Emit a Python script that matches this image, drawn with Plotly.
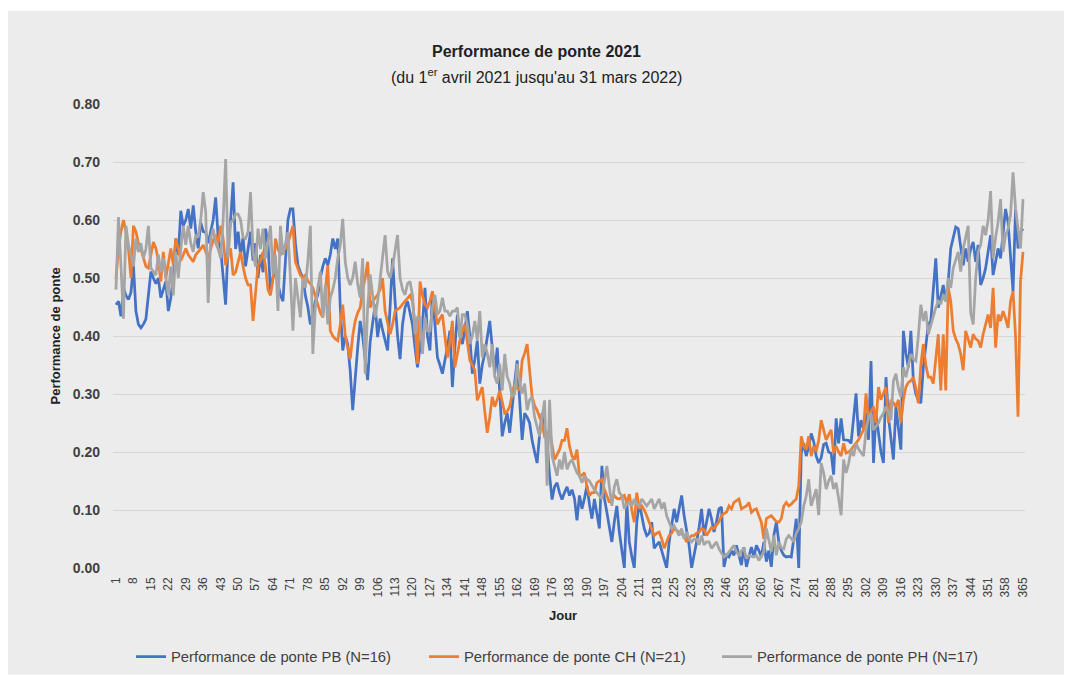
import plotly.graph_objects as go

days = list(range(1, 366))
tick_days = list(range(1, 366, 7))

pb = [
    0.454, 0.46, 0.434, 0.483, 0.47, 0.463, 0.475, 0.522, 0.443, 0.42,
    0.414, 0.42, 0.429, 0.471, 0.511, 0.50, 0.49, 0.50, 0.466, 0.48,
    0.494, 0.443, 0.466, 0.50, 0.568, 0.54, 0.616, 0.59, 0.60, 0.619,
    0.585, 0.625, 0.58, 0.551, 0.596, 0.58, 0.579, 0.56, 0.58, 0.60,
    0.639, 0.57, 0.55, 0.50, 0.454, 0.56, 0.60, 0.665, 0.55, 0.58,
    0.54, 0.57, 0.52, 0.55, 0.58, 0.53, 0.56, 0.50, 0.54, 0.51,
    0.585, 0.56, 0.477, 0.50, 0.52, 0.49, 0.47, 0.46, 0.53, 0.60,
    0.619, 0.619, 0.56, 0.522, 0.51, 0.50, 0.47, 0.45, 0.42, 0.44,
    0.46, 0.471, 0.50, 0.52, 0.534, 0.522, 0.54, 0.568, 0.55, 0.568,
    0.45, 0.375, 0.40, 0.386, 0.34, 0.272, 0.33, 0.38, 0.426, 0.40,
    0.36, 0.324, 0.39, 0.42, 0.454, 0.398, 0.43, 0.41, 0.39, 0.375,
    0.45, 0.534, 0.46, 0.40, 0.36, 0.42, 0.449, 0.46, 0.44, 0.42,
    0.38, 0.346, 0.38, 0.42, 0.483, 0.40, 0.375, 0.477, 0.42, 0.363,
    0.35, 0.335, 0.358, 0.38, 0.409, 0.312, 0.38, 0.437, 0.40, 0.386,
    0.41, 0.443, 0.40, 0.335, 0.36, 0.392, 0.318, 0.35, 0.37, 0.40,
    0.426, 0.38, 0.335, 0.38, 0.30, 0.227, 0.25, 0.267, 0.233, 0.28,
    0.32, 0.358, 0.28, 0.221, 0.267, 0.26, 0.25, 0.22, 0.20, 0.181,
    0.23, 0.267, 0.24, 0.216, 0.16, 0.118, 0.14, 0.147, 0.13, 0.118,
    0.13, 0.14, 0.125, 0.135, 0.12, 0.082, 0.125, 0.102, 0.12, 0.142,
    0.11, 0.085, 0.119, 0.09, 0.068, 0.176, 0.12, 0.096, 0.068, 0.045,
    0.08, 0.107, 0.062, 0.03, 0.0, 0.113, 0.045, 0.02, 0.0, 0.079,
    0.113, 0.09, 0.068, 0.056, 0.06, 0.079, 0.034, 0.04, 0.045, 0.03,
    0.015, 0.0, 0.045, 0.07, 0.102, 0.079, 0.10, 0.125, 0.09, 0.062,
    0.039, 0.0, 0.02, 0.045, 0.07, 0.102, 0.056, 0.08, 0.102, 0.085,
    0.062, 0.08, 0.102, 0.105, 0.002, 0.022, 0.019, 0.03, 0.022, 0.039,
    0.02, 0.005, 0.036, 0.002, 0.02, 0.036, 0.019, 0.039, 0.03, 0.019,
    0.045, 0.011, 0.03, 0.002, 0.056, 0.079, 0.045, 0.03, 0.022, 0.019,
    0.02, 0.019, 0.05, 0.085, 0.0, 0.198, 0.215, 0.193, 0.21, 0.232,
    0.218, 0.193, 0.181, 0.19, 0.213, 0.215, 0.20, 0.198, 0.161, 0.258,
    0.215, 0.258, 0.221, 0.221, 0.22, 0.215, 0.26, 0.301, 0.227, 0.255,
    0.24, 0.267, 0.221, 0.357, 0.181, 0.267, 0.233, 0.20, 0.181, 0.329,
    0.26, 0.221, 0.187, 0.278, 0.24, 0.204, 0.409, 0.37, 0.346, 0.409,
    0.323, 0.30, 0.29, 0.284, 0.346, 0.38, 0.42, 0.426, 0.48, 0.534,
    0.449, 0.47, 0.488, 0.46, 0.494, 0.551, 0.57, 0.588, 0.585, 0.55,
    0.522, 0.551, 0.528, 0.55, 0.562, 0.528, 0.557, 0.488, 0.50, 0.517,
    0.545, 0.574, 0.505, 0.53, 0.551, 0.534, 0.58, 0.619, 0.596, 0.53,
    0.477, 0.619, 0.551, 0.579, 0.585,
]

ch = [
    0.50, 0.55, 0.58, 0.60, 0.58, 0.55, 0.50, 0.59, 0.58, 0.56,
    0.55, 0.534, 0.52, 0.517, 0.54, 0.562, 0.551, 0.53, 0.494, 0.545,
    0.50, 0.53, 0.551, 0.522, 0.568, 0.55, 0.53, 0.54, 0.551, 0.54,
    0.535, 0.528, 0.54, 0.545, 0.55, 0.557, 0.545, 0.534, 0.55, 0.565,
    0.574, 0.56, 0.59, 0.568, 0.522, 0.54, 0.551, 0.505, 0.51, 0.53,
    0.545, 0.52, 0.50, 0.488, 0.488, 0.426, 0.471, 0.522, 0.53, 0.545,
    0.52, 0.48, 0.47, 0.50, 0.568, 0.55, 0.54, 0.545, 0.551, 0.56,
    0.575, 0.59, 0.528, 0.515, 0.505, 0.50, 0.506, 0.495, 0.49, 0.483,
    0.47, 0.455, 0.44, 0.432, 0.48, 0.522, 0.409, 0.40, 0.395, 0.392,
    0.42, 0.454, 0.40, 0.38, 0.36, 0.40, 0.426, 0.44, 0.449, 0.48,
    0.50, 0.528, 0.449, 0.46, 0.465, 0.471, 0.48, 0.50, 0.443, 0.42,
    0.403, 0.42, 0.443, 0.446, 0.449, 0.455, 0.46, 0.465, 0.47, 0.46,
    0.42, 0.352, 0.494, 0.47, 0.454, 0.449, 0.46, 0.477, 0.45, 0.42,
    0.43, 0.437, 0.40, 0.363, 0.39, 0.426, 0.346, 0.37, 0.392, 0.41,
    0.42, 0.39, 0.358, 0.35, 0.341, 0.289, 0.30, 0.312, 0.27, 0.233,
    0.26, 0.295, 0.278, 0.29, 0.306, 0.285, 0.267, 0.27, 0.278, 0.30,
    0.318, 0.31, 0.306, 0.358, 0.37, 0.386, 0.34, 0.295, 0.28, 0.272,
    0.26, 0.25, 0.227, 0.23, 0.238, 0.21, 0.187, 0.195, 0.204, 0.22,
    0.22, 0.241, 0.21, 0.193, 0.187, 0.204, 0.159, 0.16, 0.164, 0.14,
    0.125, 0.13, 0.13, 0.147, 0.15, 0.153, 0.136, 0.125, 0.113, 0.12,
    0.125, 0.12, 0.119, 0.122, 0.125, 0.113, 0.127, 0.10, 0.079, 0.13,
    0.102, 0.107, 0.10, 0.09, 0.079, 0.07, 0.056, 0.06, 0.062, 0.05,
    0.034, 0.045, 0.056, 0.06, 0.068, 0.065, 0.062, 0.06, 0.056, 0.045,
    0.05, 0.056, 0.056, 0.06, 0.062, 0.068, 0.066, 0.056, 0.063, 0.07,
    0.068, 0.073, 0.08, 0.09, 0.094, 0.096, 0.107, 0.102, 0.113, 0.116,
    0.119, 0.102, 0.105, 0.107, 0.113, 0.096, 0.10, 0.102, 0.09, 0.079,
    0.05, 0.085, 0.088, 0.09, 0.085, 0.08, 0.079, 0.085, 0.107, 0.113,
    0.107, 0.11, 0.115, 0.119, 0.142, 0.227, 0.21, 0.204, 0.227, 0.193,
    0.21, 0.201, 0.22, 0.255, 0.238, 0.221, 0.23, 0.238, 0.198, 0.21,
    0.20, 0.193, 0.215, 0.198, 0.20, 0.204, 0.21, 0.215, 0.221, 0.23,
    0.238, 0.301, 0.255, 0.27, 0.278, 0.25, 0.312, 0.29, 0.30, 0.312,
    0.25, 0.29, 0.285, 0.278, 0.29, 0.25, 0.29, 0.312, 0.32, 0.323,
    0.329, 0.31, 0.284, 0.35, 0.386, 0.35, 0.329, 0.329, 0.318, 0.36,
    0.403, 0.306, 0.403, 0.306, 0.483, 0.46, 0.409, 0.395, 0.386, 0.369,
    0.341, 0.409, 0.392, 0.38, 0.403, 0.395, 0.392, 0.38, 0.403, 0.42,
    0.437, 0.414, 0.483, 0.38, 0.437, 0.426, 0.443, 0.43, 0.414, 0.46,
    0.477, 0.40, 0.261, 0.494, 0.545,
]

ph = [
    0.48, 0.605, 0.52, 0.43, 0.59, 0.557, 0.54, 0.52, 0.568, 0.545,
    0.56, 0.534, 0.55, 0.59, 0.517, 0.51, 0.505, 0.54, 0.51, 0.534,
    0.50, 0.47, 0.52, 0.47, 0.545, 0.50, 0.55, 0.59, 0.557, 0.59,
    0.56, 0.545, 0.574, 0.57, 0.60, 0.648, 0.614, 0.457, 0.568, 0.585,
    0.56, 0.55, 0.534, 0.60, 0.705, 0.534, 0.596, 0.60, 0.61, 0.61,
    0.60, 0.57, 0.568, 0.58, 0.648, 0.545, 0.52, 0.585, 0.55, 0.585,
    0.534, 0.56, 0.59, 0.506, 0.54, 0.443, 0.59, 0.54, 0.56, 0.579,
    0.50, 0.409, 0.50, 0.47, 0.432, 0.50, 0.483, 0.53, 0.59, 0.369,
    0.45, 0.483, 0.511, 0.432, 0.488, 0.42, 0.466, 0.48, 0.50, 0.534,
    0.557, 0.602, 0.528, 0.50, 0.488, 0.50, 0.528, 0.49, 0.466, 0.534,
    0.335, 0.45, 0.506, 0.47, 0.432, 0.46, 0.50, 0.54, 0.574, 0.511,
    0.50, 0.52, 0.545, 0.574, 0.50, 0.48, 0.471, 0.49, 0.494, 0.47,
    0.403, 0.432, 0.432, 0.369, 0.432, 0.409, 0.409, 0.449, 0.471, 0.437,
    0.443, 0.466, 0.443, 0.443, 0.434, 0.443, 0.443, 0.449, 0.397, 0.437,
    0.437, 0.42, 0.386, 0.40, 0.426, 0.392, 0.443, 0.363, 0.386, 0.37,
    0.346, 0.386, 0.33, 0.318, 0.352, 0.306, 0.369, 0.33, 0.318, 0.295,
    0.30, 0.352, 0.32, 0.301, 0.318, 0.272, 0.29, 0.295, 0.26, 0.244,
    0.227, 0.26, 0.289, 0.142, 0.29, 0.193, 0.175, 0.159, 0.187, 0.17,
    0.20, 0.17, 0.181, 0.187, 0.175, 0.164, 0.159, 0.147, 0.159, 0.153,
    0.15, 0.142, 0.135, 0.13, 0.125, 0.119, 0.15, 0.176, 0.14, 0.107,
    0.14, 0.153, 0.13, 0.125, 0.102, 0.11, 0.113, 0.107, 0.119, 0.11,
    0.107, 0.119, 0.113, 0.107, 0.113, 0.119, 0.102, 0.11, 0.119, 0.102,
    0.113, 0.09, 0.079, 0.068, 0.073, 0.065, 0.056, 0.068, 0.05, 0.062,
    0.05, 0.045, 0.05, 0.05, 0.04, 0.056, 0.04, 0.045, 0.045, 0.034,
    0.039, 0.045, 0.033, 0.025, 0.019, 0.022, 0.028, 0.035, 0.039, 0.028,
    0.022, 0.03, 0.033, 0.016, 0.022, 0.02, 0.019, 0.022, 0.013, 0.02,
    0.028, 0.068, 0.05, 0.028, 0.056, 0.022, 0.045, 0.035, 0.033, 0.05,
    0.056, 0.05, 0.045, 0.06, 0.068, 0.079, 0.107, 0.124, 0.153, 0.107,
    0.12, 0.136, 0.091, 0.181, 0.164, 0.136, 0.15, 0.159, 0.136, 0.147,
    0.12, 0.091, 0.187, 0.164, 0.18, 0.204, 0.193, 0.215, 0.205, 0.198,
    0.193, 0.238, 0.26, 0.267, 0.238, 0.244, 0.25, 0.26, 0.267, 0.278,
    0.27, 0.255, 0.323, 0.335, 0.31, 0.295, 0.346, 0.329, 0.35, 0.369,
    0.36, 0.357, 0.40, 0.454, 0.426, 0.443, 0.403, 0.42, 0.437, 0.449,
    0.46, 0.455, 0.471, 0.46, 0.50, 0.483, 0.517, 0.53, 0.545, 0.511,
    0.551, 0.57, 0.59, 0.44, 0.42, 0.50, 0.545, 0.557, 0.59, 0.574,
    0.60, 0.65, 0.534, 0.57, 0.596, 0.636, 0.545, 0.574, 0.585, 0.608,
    0.682, 0.62, 0.585, 0.551, 0.636,
]

series_names = [
    "Performance de ponte PB (N=16)",
    "Performance de ponte CH (N=21)",
    "Performance de ponte PH (N=17)",
]
series_values = [pb, ch, ph]
colors = ["#4472C4", "#ED7D31", "#A5A5A5"]

W, H = 1072, 685
ML, MR, MT, MB = 113, 47, 104, 112
PW, PH_ = W - ML - MR, H - MT - MB


def px_x(p):
    return (p - ML) / PW


def px_y(p):
    return (H - MB - p) / PH_


FONT = "Liberation Sans"
TXT = "#404040"

fig = go.Figure()
for name, vals, col in zip(series_names, series_values, colors):
    fig.add_trace(go.Scatter(
        x=days, y=vals, mode="lines", name=name,
        line=dict(color=col, width=2.75),
    ))

fig.update_layout(
    width=W, height=H,
    margin=dict(l=ML, r=MR, t=MT, b=MB),
    paper_bgcolor="#ffffff",
    plot_bgcolor="#ececec",
    font=dict(family=FONT, color=TXT),
    showlegend=True,
    legend=dict(
        orientation="h", x=px_x(131), y=px_y(663), xanchor="left", yanchor="middle",
        font=dict(size=14.8, color=TXT, family=FONT),
        entrywidth=248, entrywidthmode="pixels",
        bgcolor="rgba(0,0,0,0)",
    ),
    shapes=[dict(
        type="rect", xref="paper", yref="paper", layer="below",
        x0=px_x(8), x1=px_x(1064), y0=px_y(681), y1=px_y(10),
        fillcolor="#ececec", line=dict(width=0),
    )],
    annotations=[
        dict(text="<b>Performance de ponte 2021</b>", xref="paper", yref="paper",
             x=px_x(536), y=px_y(51), showarrow=False, xanchor="center", yanchor="middle",
             font=dict(size=16, color="#222222", family=FONT)),
        dict(text="(du 1<sup>er</sup> avril 2021 jusqu'au 31 mars 2022)", xref="paper", yref="paper",
             x=px_x(536), y=px_y(76), showarrow=False, xanchor="center", yanchor="middle",
             font=dict(size=16, color="#222222", family=FONT)),
        dict(text="<b>Performance de ponte</b>", xref="paper", yref="paper",
             x=px_x(55), y=px_y(339), showarrow=False, textangle=-90,
             xanchor="center", yanchor="middle",
             font=dict(size=13, color="#222222", family=FONT)),
        dict(text="<b>Jour</b>", xref="paper", yref="paper",
             x=px_x(563), y=px_y(621), showarrow=False, xanchor="center", yanchor="middle",
             font=dict(size=13, color="#222222", family=FONT)),
    ],
)

fig.update_xaxes(
    range=[-0.2, 365.8],
    tickmode="array", tickvals=tick_days, ticktext=[str(d) for d in tick_days],
    tickangle=-90, tickfont=dict(size=12, color=TXT, family=FONT),
    showgrid=False, zeroline=False, showline=False, ticks="",
    ticklabelstandoff=6,
)
fig.update_yaxes(
    range=[0, 0.8], dtick=0.1, tick0=0, tickformat=".2f",
    tickfont=dict(size=14, color=TXT, family=FONT, weight="bold"),
    showgrid=True, gridcolor="#d6d6d6", gridwidth=1.3,
    zeroline=False, showline=False, ticks="",
    ticklabelstandoff=12,
)

fig.write_html(
    "out.html",
    config={"displayModeBar": False},
    post_script="document.body.style.margin='0';document.body.style.overflow='hidden';",
)
